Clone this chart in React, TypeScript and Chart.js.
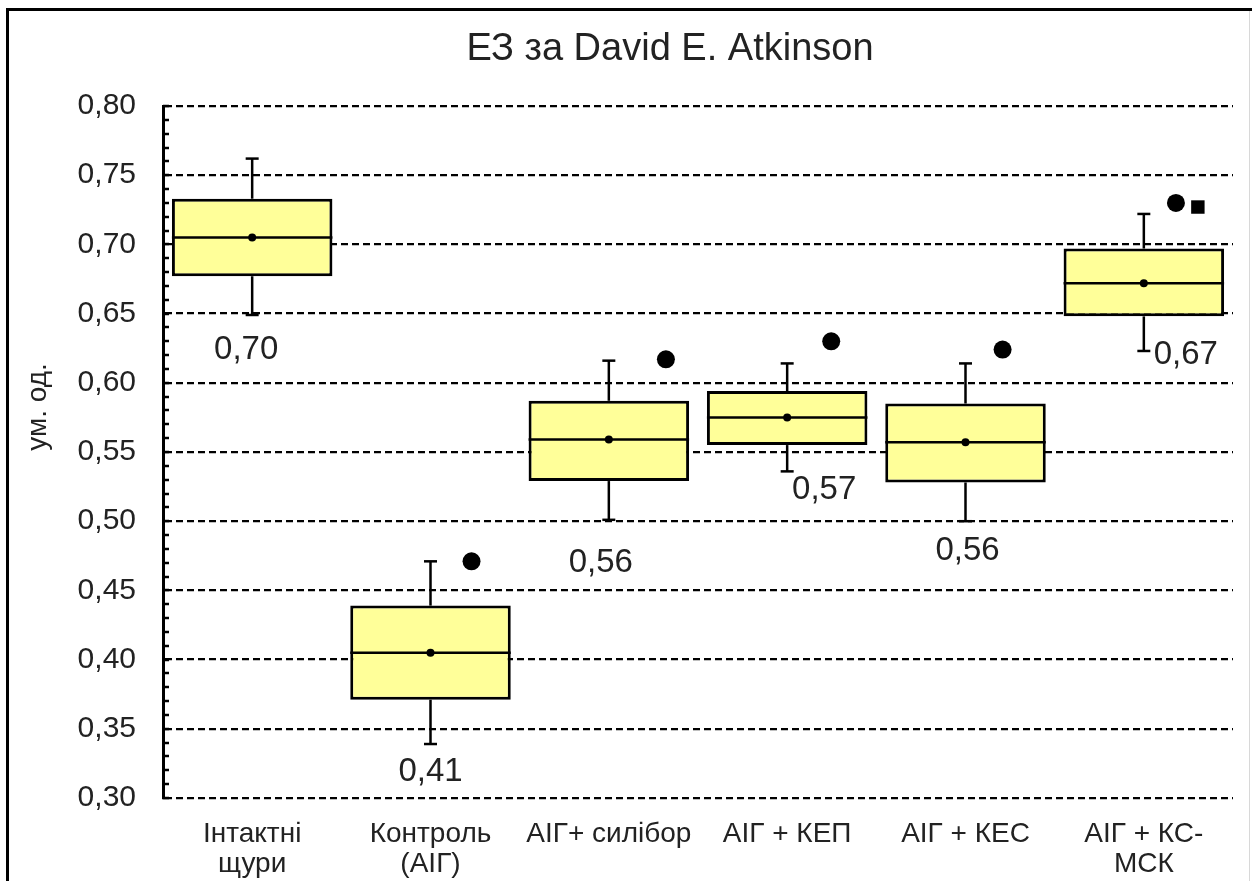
import { useEffect, useRef } from 'react';
import { Chart, registerables } from 'chart.js';

Chart.register(...registerables);

const TITLE = 'ЕЗ за David E. Atkinson';
const Y_TITLE = 'ум. од.';
const CATEGORIES: (string | string[])[] = [
  ['Інтактні', 'щури'],
  ['Контроль', '(АІГ)'],
  'АІГ+ силібор',
  'АІГ + КЕП',
  'АІГ + КЕС',
  ['АІГ + КС-', 'МСК'],
];
const Q1 = [0.677, 0.371, 0.529, 0.555, 0.528, 0.648];
const Q3 = [0.733, 0.439, 0.587, 0.594, 0.585, 0.697];
const MEDIAN = [0.705, 0.405, 0.559, 0.575, 0.557, 0.672];
const MEAN = [0.705, 0.405, 0.559, 0.575, 0.557, 0.672];
const WHISKER_MIN = [0.649, 0.339, 0.501, 0.536, 0.500, 0.623];
const WHISKER_MAX = [0.762, 0.471, 0.616, 0.614, 0.614, 0.722];
const VALUE_LABELS = ['0,70', '0,41', '0,56', '0,57', '0,56', '0,67'];
const OUTLIER_GROUP = [1, 2, 3, 4, 5, 5];
const OUTLIER_VALUE = [0.471, 0.617, 0.630, 0.624, 0.730, 0.727];
const OUTLIER_SHAPE = ['circle', 'circle', 'circle', 'circle', 'circle', 'rect'];
const Y_MIN = 0.3;
const Y_MAX = 0.8;
const Y_STEP = 0.05;

// styling / placement (pixels or category fractions)
const OUTLIER_JITTER = [0.23, 0.32, 0.247, 0.208, 0.18, 0.303];
const LABEL_DX = [-6, 0, -8, 37, 2, 42];
const LABEL_DY = [35, 28, 43, 19, 30, 4];
const FONT = "'Liberation Sans', Arial, sans-serif";
const TEXT = '#222';

const decorPlugin = {
  id: 'decor',
  afterDatasetsDraw(chart: any) {
    const { ctx, scales } = chart;
    const x = scales.x;
    const y = scales.y;
    const meta = chart.getDatasetMeta(0);
    ctx.save();
    ctx.strokeStyle = '#000';
    ctx.fillStyle = '#000';
    const line = (x1: number, y1: number, x2: number, y2: number, w: number) => {
      ctx.lineWidth = w;
      ctx.beginPath();
      ctx.moveTo(x1, y1);
      ctx.lineTo(x2, y2);
      ctx.stroke();
    };
    CATEGORIES.forEach((_, i) => {
      const bar = meta.data[i];
      const cx = x.getPixelForValue(i);
      const half = bar.width / 2;
      const yq1 = y.getPixelForValue(Q1[i]);
      const yq3 = y.getPixelForValue(Q3[i]);
      const ymin = y.getPixelForValue(WHISKER_MIN[i]);
      const ymax = y.getPixelForValue(WHISKER_MAX[i]);
      const ymed = y.getPixelForValue(MEDIAN[i]);
      const ymean = y.getPixelForValue(MEAN[i]);
      line(cx, yq3, cx, ymax, 2.5);
      line(cx - 6.5, ymax, cx + 6.5, ymax, 2.5);
      line(cx, yq1, cx, ymin, 2.5);
      line(cx - 6.5, ymin, cx + 6.5, ymin, 2.5);
      line(cx - half, ymed, cx + half, ymed, 2.5);
      ctx.beginPath();
      ctx.arc(cx, ymean, 4, 0, Math.PI * 2);
      ctx.fill();
    });
    ctx.restore();
  },
  afterDraw(chart: any) {
    const { ctx, scales, chartArea } = chart;
    const x = scales.x;
    const y = scales.y;
    ctx.save();
    // minor ticks
    ctx.strokeStyle = '#000';
    ctx.lineWidth = 2.5;
    for (let k = Math.round(Y_MIN * 100); k <= Math.round(Y_MAX * 100); k++) {
      const py = Math.round(y.getPixelForValue(k / 100));
      ctx.beginPath();
      ctx.moveTo(chartArea.left, py);
      ctx.lineTo(chartArea.left + 6, py);
      ctx.stroke();
    }
    // value labels
    ctx.fillStyle = TEXT;
    ctx.font = `33px ${FONT}`;
    ctx.textAlign = 'center';
    ctx.textBaseline = 'middle';
    VALUE_LABELS.forEach((t, i) => {
      const ymin = y.getPixelForValue(WHISKER_MIN[i]);
      ctx.fillText(t, x.getPixelForValue(i) + LABEL_DX[i], ymin + LABEL_DY[i]);
    });
    // title
    ctx.font = `38px ${FONT}`;
    ctx.fillText(TITLE, 670, 50);
    // y title
    ctx.save();
    ctx.translate(38, 407);
    ctx.rotate(-Math.PI / 2);
    ctx.font = `28px ${FONT}`;
    ctx.fillText(Y_TITLE, 0, 0);
    ctx.restore();
    // frame
    ctx.strokeStyle = '#000';
    ctx.lineWidth = 3;
    ctx.beginPath();
    ctx.moveTo(6, 9.5);
    ctx.lineTo(1252, 9.5);
    ctx.moveTo(7.5, 8);
    ctx.lineTo(7.5, 881);
    ctx.stroke();
    ctx.strokeStyle = '#d8d8d8';
    ctx.lineWidth = 1;
    ctx.beginPath();
    ctx.moveTo(1249.5, 11);
    ctx.lineTo(1249.5, 881);
    ctx.stroke();
    ctx.restore();
  },
};

export default function App() {
  const ref = useRef<HTMLCanvasElement>(null);
  useEffect(() => {
    if (!ref.current) return;
    const chart = new Chart(ref.current, {
      type: 'bar',
      data: {
        datasets: [
          {
            type: 'bar',
            data: Q1.map((q, i) => ({ x: i, y: [q, Q3[i]] })) as any,
            backgroundColor: '#FFFF99',
            borderColor: '#000',
            borderWidth: 3,
            borderSkipped: false,
            barPercentage: 0.9,
            categoryPercentage: 1,
            grouped: false,
          } as any,
          {
            type: 'scatter',
            data: OUTLIER_VALUE.map((v, i) => ({ x: OUTLIER_GROUP[i] + OUTLIER_JITTER[i], y: v })),
            pointStyle: OUTLIER_SHAPE as any,
            pointRadius: OUTLIER_SHAPE.map((s) => (s === 'rect' ? 9.5 : 9)),
            pointBackgroundColor: '#000',
            pointBorderWidth: 0,
          } as any,
        ],
      },
      options: {
        responsive: false,
        animation: false,
        devicePixelRatio: 1,
        layout: { padding: { top: 106, right: 19, left: 0, bottom: 0 } },
        plugins: { legend: { display: false }, title: { display: false }, tooltip: { enabled: false } },
        scales: {
          x: {
            type: 'linear',
            min: -0.5,
            max: 5.5,
            offset: false,
            grid: { display: false, drawTicks: false },
            border: { display: false },
            afterBuildTicks: (s: any) => {
              s.ticks = CATEGORIES.map((_, i) => ({ value: i }));
            },
            ticks: {
              color: TEXT,
              font: { family: FONT, size: 28, lineHeight: 1.05 },
              padding: 22,
              maxRotation: 0,
              autoSkip: false,
              callback: (v: any) => CATEGORIES[Math.round(Number(v))] as any,
            },
            afterFit: (s: any) => { s.height = 83; },
          },
          y: {
            min: Y_MIN,
            max: Y_MAX,
            grid: { color: '#000', lineWidth: 2.2, drawTicks: false },
            border: { display: true, color: '#000', width: 3, dash: [7, 4] },
            ticks: {
              stepSize: Y_STEP,
              color: TEXT,
              font: { family: FONT, size: 30 },
              padding: 27,
              callback: (v: any) => Number(v).toFixed(2).replace('.', ','),
            },
            afterFit: (s: any) => { s.width = 163; },
          },
        },
      } as any,
      plugins: [decorPlugin],
    });
    return () => chart.destroy();
  }, []);
  return (
    <canvas
      ref={ref}
      width={1252}
      height={881}
      style={{ position: 'fixed', left: 0, top: 0, width: 1252, height: 881, background: '#fff' }}
    />
  );
}
